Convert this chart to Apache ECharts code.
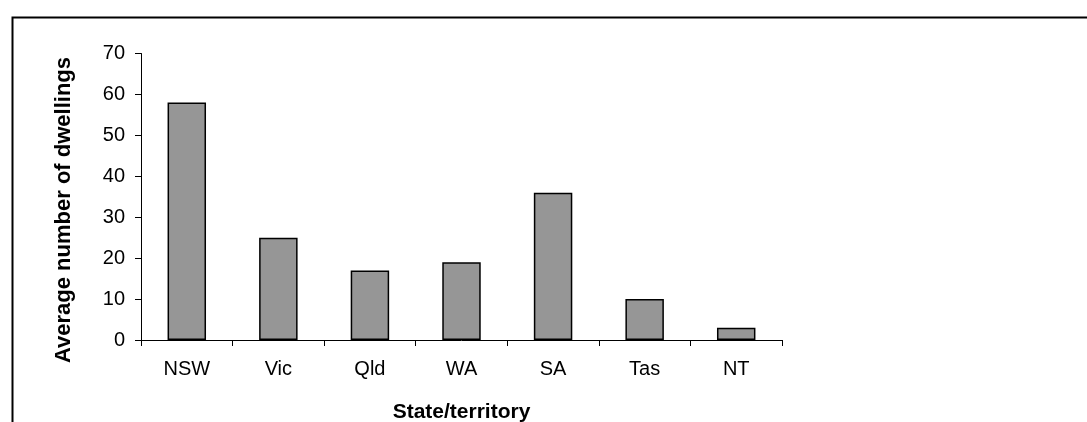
<!DOCTYPE html>
<html>
<head>
<meta charset="utf-8">
<script src="https://cdn.jsdelivr.net/npm/echarts@6/dist/echarts.min.js"></script>
<style>
html,body{margin:0;padding:0;background:#fff;}
#chart{width:1087px;height:422px;}
</style>
</head>
<body>
<div id="chart"></div>
<script>
const categories = ['NSW', 'Vic', 'Qld', 'WA', 'SA', 'Tas', 'NT'];
const dwellings = [58, 25, 17, 19, 36, 10, 3];
const yTicks = [0, 10, 20, 30, 40, 50, 60, 70];
const xTitle = 'State/territory';
const yTitle = 'Average number of dwellings';

const chart = echarts.init(document.getElementById('chart'));
const font = 'Liberation Sans, Arial, sans-serif';
chart.setOption({
  backgroundColor: '#fff',
  animation: false,
  grid: { left: 141, right: 305, top: 53.5, bottom: 82, containLabel: false, outerBoundsMode: 'none' },
  xAxis: {
    type: 'category',
    data: categories,
    boundaryGap: true,
    axisLine: { lineStyle: { color: '#000', width: 1 } },
    axisTick: { show: true, length: 6, lineStyle: { color: '#000' } },
    axisLabel: { color: '#000', fontFamily: font, fontSize: 20, margin: 19 },
    name: xTitle,
    nameLocation: 'middle',
    nameGap: 62,
    nameTextStyle: { color: '#000', fontFamily: font, fontSize: 21, fontWeight: 'bold' }
  },
  yAxis: {
    type: 'value',
    min: yTicks[0],
    max: yTicks[yTicks.length - 1],
    interval: 10,
    axisLine: { show: true, lineStyle: { color: '#000', width: 1 } },
    axisTick: { show: true, length: 6, lineStyle: { color: '#000' } },
    axisLabel: { color: '#000', fontFamily: font, fontSize: 20, margin: 16 },
    splitLine: { show: false }
  },
  graphic: [
    { type: 'rect', left: 10, top: 15, shape: { width: 1100, height: 430 }, style: { fill: 'none', stroke: '#000', lineWidth: 2 }, silent: true },
    { type: 'text', x: 64, y: 210, rotation: Math.PI / 2, style: { text: yTitle, font: 'bold 22px ' + font, fill: '#000', textAlign: 'center', textVerticalAlign: 'middle' } }
  ],
  series: [{
    type: 'bar',
    data: dwellings,
    barWidth: '42%',
    itemStyle: { color: '#969696', borderColor: '#000', borderWidth: 1.5 }
  }]
});
</script>
</body>
</html>
